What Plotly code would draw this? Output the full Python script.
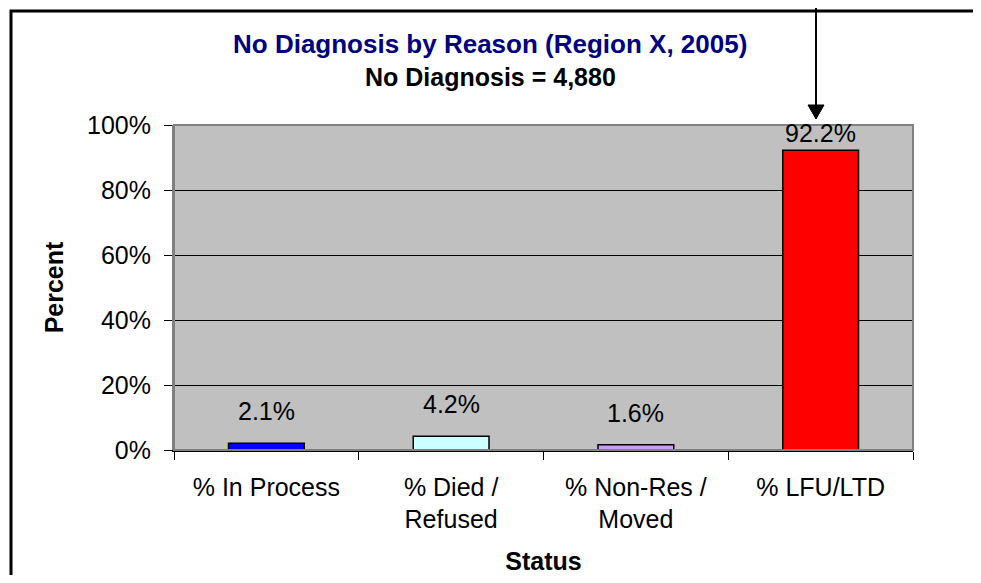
import plotly.graph_objects as go

categories = ["% In Process", "% Died /<br>Refused", "% Non-Res /<br>Moved", "% LFU/LTD"]
values = [2.1, 4.2, 1.6, 92.2]
bar_colors = ["#0000FF", "#CCFFFF", "#CC99FF", "#FF0000"]
y_ticks = [0, 20, 40, 60, 80, 100]
y_tick_labels = ["0%", "20%", "40%", "60%", "80%", "100%"]
title_text = "No Diagnosis by Reason (Region X, 2005)"
subtitle_text = "No Diagnosis = 4,880"

# page body margin of 8px is accounted for: figure is placed at (8, 8) in the window
OFF = 8
W, H = 981 - 2 * OFF, 583 - 2 * OFF
# plot area in window pixel coordinates
L, R, T, B = 174, 913, 125, 450

def px(x):
    return (x - L) / (R - L)

def py(y):
    return (B - y) / (B - T)

FONT = "Liberation Sans, Arial, sans-serif"

fig = go.Figure()
fig.add_trace(go.Bar(
    x=categories, y=values, width=0.41,
    marker=dict(color=bar_colors, line=dict(color="black", width=1.5)),
    hoverinfo="skip",
))

for c, v in zip(categories, values):
    shift = 1 if v > 85 else 16
    fig.add_annotation(x=c, y=v, text=f"{v}%", showarrow=False, yanchor="bottom",
                       yshift=shift, font=dict(size=25, color="black", family=FONT))

fig.add_annotation(x=px(490), y=py(44), xref="paper", yref="paper", text=f"<b>{title_text}</b>",
                   showarrow=False, xanchor="center", yanchor="middle",
                   font=dict(size=26, color="#000080", family=FONT))
fig.add_annotation(x=px(490), y=py(77), xref="paper", yref="paper", text=f"<b>{subtitle_text}</b>",
                   showarrow=False, xanchor="center", yanchor="middle",
                   font=dict(size=25, color="black", family=FONT))

# outer border
fig.add_shape(type="rect", xref="paper", yref="paper", x0=px(11), x1=px(1000), y0=py(600), y1=py(11),
              line=dict(color="black", width=3), layer="above")
# plot area border
fig.add_shape(type="rect", xref="paper", yref="paper", x0=0, x1=1, y0=0, y1=1,
              line=dict(color="#808080", width=2), layer="above")
# arrow
fig.add_shape(type="line", xref="paper", yref="paper", x0=px(816), x1=px(816), y0=py(-5), y1=py(106),
              line=dict(color="black", width=2), layer="above")
fig.add_shape(type="path", xref="paper", yref="paper",
              path=f"M {px(808)} {py(105)} L {px(824)} {py(105)} L {px(816)} {py(119)} Z",
              fillcolor="black", line=dict(color="black", width=1), layer="above")

fig.update_layout(
    width=W, height=H,
    margin=dict(l=L - OFF, r=W - (R - OFF), t=T - OFF, b=H - (B - OFF), autoexpand=False),
    paper_bgcolor="white", plot_bgcolor="#C0C0C0",
    showlegend=False,
    font=dict(family=FONT, size=25, color="black"),
)
fig.update_xaxes(
    type="category", tickson="boundaries", ticks="outside", ticklen=8, tickcolor="black",
    showline=True, linecolor="black", linewidth=1.5, showgrid=False,
    tickfont=dict(size=25), ticklabelstandoff=14,
    title=dict(text="<b>Status</b>", font=dict(size=25), standoff=21),
)
fig.update_yaxes(
    range=[0, 100], tickvals=y_ticks, ticktext=y_tick_labels, ticks="outside", ticklen=8,
    tickcolor="black", showgrid=True, gridcolor="black", gridwidth=1, zeroline=False,
    showline=True, linecolor="#808080", linewidth=2,
    tickfont=dict(size=25), ticklabelstandoff=8,
    title=dict(text="<b>Percent</b>", font=dict(size=25), standoff=16),
)

fig.write_html("out.html")
